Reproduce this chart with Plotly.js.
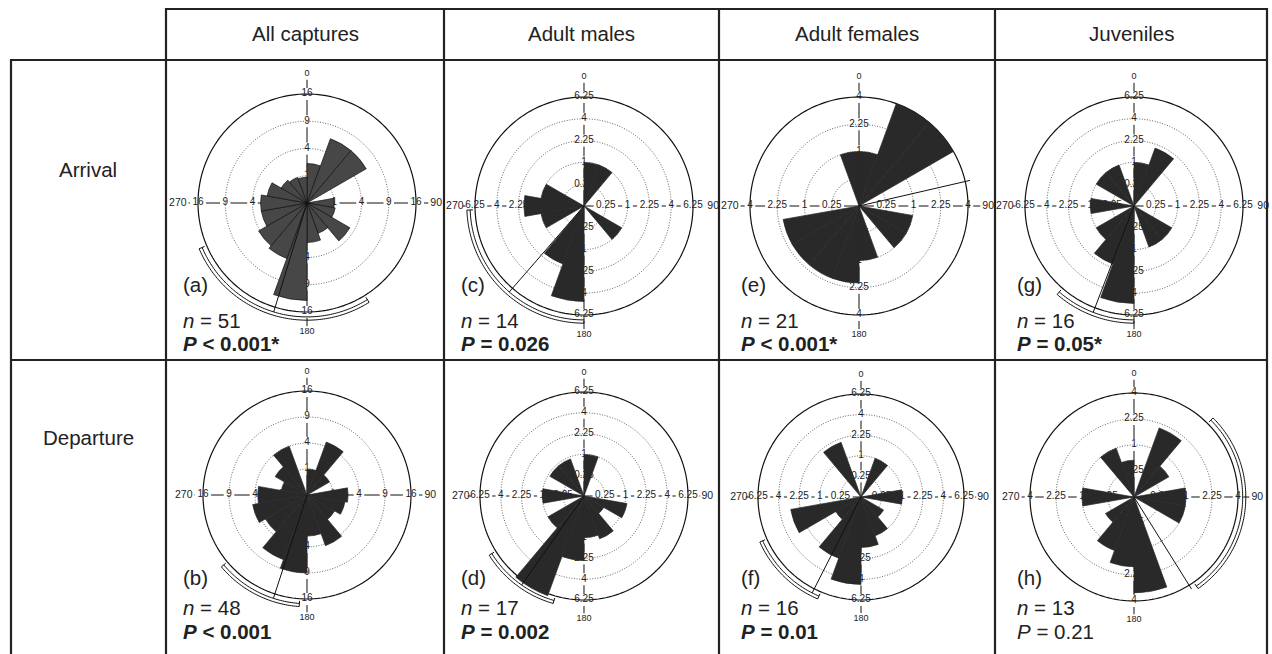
<!DOCTYPE html>
<html><head><meta charset="utf-8">
<script src="https://cdn.plot.ly/plotly-3.0.1.min.js"></script>
<style>html,body{margin:0;padding:0;background:#fff}#chart{width:1272px;height:654px}</style>
</head><body><div id="chart"></div>
<script>
// ---------- DATA ----------
// 20-degree bins (centres, degrees clockwise from north)
const binCenters = [10,30,50,70,90,110,130,150,170,190,210,230,250,270,290,310,330,350];
// bar values (in the units of the radial labels; plotted on a square-root radius)
const arrivalAll       = [2.1,6.3,6.3,0,1.0,1.1,3.3,1.4,2.1,12.8,4.7,4.2,2.9,2.9,2.2,1.2,1.0,0.9];
const arrivalMales     = [1.0,1.0,0,0,0,0,1.0,0,0,4.8,2.0,0,1.0,1.9,1.0,0,0,0];
const arrivalFemales   = [1,4,4,0,0,1,1,0,1,2,2,2,2,0,0,0,0,1];
const arrivalJuveniles = [1,2,0,0,0,0,1,1,0,5,2,1,0,1,0,1,1,0];
const departureAll       = [1.0,4.7,1.0,0,2.5,2.2,1.5,4.3,2.5,9,7,3.4,4.5,3.6,1.0,2.0,4.0,0];
const departureMales     = [1.0,0,0,0,0,1.1,0.3,1.2,1.0,2.4,6.5,1.0,0,1.0,0,0.9,0.9,0];
const departureFemales   = [0,1.0,0,0,1.0,0,0.4,1.0,1.5,4.5,2.5,0.5,3.0,0,0,0,2.0,0];
const departureJuveniles = [0,2.0,0.6,0,1.0,1.0,0,0,3.4,1.8,1.2,0.4,0,1.0,0,0,1.0,0.5];

const colTitles = ['All captures','Adult males','Adult females','Juveniles'];
const rowTitles = ['Arrival','Departure'];
// panel order: a c e g (arrival row), b d f h (departure row)
const panelLetters = ['(a)','(c)','(e)','(g)','(b)','(d)','(f)','(h)'];
const sampleSizes  = [51,14,21,16,48,17,16,13];
const pValues      = ['< 0.001*','= 0.026','< 0.001*','= 0.05*','< 0.001','= 0.002','= 0.01','= 0.21'];
const pSignificant = [true,true,true,true,true,true,true,false];
const meanDirection = [197,221,77,201,198,215,207,148];
const ciLower = [148,180,null,180,184,196,203,45];
const ciUpper = [247,268,null,221,230,238,246,145];
const ticksA = [1,4,9,16];
const ticksB = [0.25,1,2.25,4,6.25];
const ticksC = [0.25,1,2.25,4];
const tickLabelsA = ['1','4','9','16'];
const tickLabelsB = ['0.25','1','2.25','4','6.25'];
const tickLabelsC = ['0.25','1','2.25','4'];
const directionLabels = ['0','90','180','270'];
const directionAngles = [0,90,180,270];

const panelCounts = [arrivalAll,arrivalMales,arrivalFemales,arrivalJuveniles,
                     departureAll,departureMales,departureFemales,departureJuveniles];
const panelTicks  = [ticksA,ticksB,ticksC,ticksB,ticksA,ticksB,ticksB,ticksC];
const panelTickLabels = [tickLabelsA,tickLabelsB,tickLabelsC,tickLabelsB,tickLabelsA,tickLabelsB,tickLabelsB,tickLabelsC];

// ---------- LAYOUT GEOMETRY (pixels) ----------
const W = 1272, H = 654;
const centersX = [307,584,859,1134, 307,584,861,1134];
const centersY = [203,206,206,206, 495,496,497,497];
const ringPx   = [109,109,109,109, 104,104,103,104];
const K = 1.22;   // radial range / outer ring
const barFill = ['#474747','#292929','#292929','#292929','#292929','#292929','#292929','#292929'];
const barLine = ['#111111','#292929','#292929','#292929','#292929','#292929','#292929','#292929'];
const FONT = 'Liberation Sans, Arial, Helvetica, sans-serif';
const TICK_FONT = 10;
const BIG_FONT = 20.5;

const circleTheta = [];
for (let t = 0; t <= 360; t += 2) circleTheta.push(t);

const data = [];
const layout = {
  width: W, height: H, margin: {l:0,r:0,t:0,b:0},
  paper_bgcolor: '#fff', showlegend: false,
  font: {family: FONT, color: '#222'},
  shapes: [], annotations: []
};

function axisOff(extra) {
  return Object.assign({visible:false, showgrid:false, showline:false, showticklabels:false, ticks:''}, extra);
}
function textWidth(s, size) {
  let w = 0;
  for (const ch of s) w += (ch === '.' ? 0.278 : 0.556) * size;
  return w;
}
function clamp01(v) { return Math.max(0, Math.min(1, v)); }

panelCounts.forEach((counts, i) => {
  const ticks = panelTicks[i];
  const labels = panelTickLabels[i];
  const rOut = Math.sqrt(ticks[ticks.length - 1]);
  const rMax = rOut * K;
  const P = ringPx[i] * K;
  const pxPerUnit = ringPx[i] / rOut;
  const dom = {
    x: [clamp01((centersX[i] - P) / W), clamp01((centersX[i] + P) / W)],
    y: [clamp01(1 - (centersY[i] + P) / H), clamp01(1 - (centersY[i] - P) / H)]
  };
  const idB = 'polar' + (2*i + 1 === 1 ? '' : (2*i + 1));
  const idT = 'polar' + (2*i + 2);
  [idB, idT].forEach(id => {
    layout[id] = {
      domain: dom, bgcolor: 'rgba(0,0,0,0)', hole: 0,
      radialaxis: axisOff({range: [0, rMax]}),
      angularaxis: axisOff({rotation: 90, direction: 'clockwise', thetaunit: 'degrees'})
    };
  });

  // --- bottom layer: rings, axis lines (broken around labels), labels ---
  ticks.forEach((v, k) => {
    const outer = k === ticks.length - 1;
    data.push({
      type: 'scatterpolar', subplot: idB, mode: 'lines',
      r: circleTheta.map(() => Math.sqrt(v)), theta: circleTheta,
      line: outer ? {color: '#111', width: 1.2} : {color: '#666', width: 1, dash: '1px,1.6px'},
      hoverinfo: 'skip'
    });
  });
  const dirLabelR = rOut * 1.185;
  directionAngles.forEach((a, d) => {
    const horizontal = (a === 90 || a === 270);
    const halfGap = s => (horizontal ? textWidth(s, TICK_FONT) / 2 + 2.5 : 6) / pxPerUnit;
    const rs = [], th = [];
    let start = 0;
    ticks.forEach((v, k) => {
      const rv = Math.sqrt(v);
      const g = halfGap(labels[k]);
      if (rv - g > start) { rs.push(start, rv - g, null); th.push(a, a, a); }
      start = rv + g;
    });
    const endR = dirLabelR - (horizontal ? textWidth(directionLabels[d], 10.5) / 2 + 2 : 6) / pxPerUnit;
    rs.push(start, endR); th.push(a, a);
    data.push({
      type: 'scatterpolar', subplot: idB, mode: 'lines', r: rs, theta: th,
      connectgaps: false, line: {color: '#111', width: 1}, hoverinfo: 'skip'
    });
    data.push({
      type: 'scatterpolar', subplot: idB, mode: 'text',
      r: ticks.map(v => Math.sqrt(v)), theta: ticks.map(() => a),
      text: labels, textposition: 'middle center',
      textfont: {size: TICK_FONT, color: '#222', family: FONT},
      cliponaxis: false, hoverinfo: 'skip'
    });
  });
  data.push({
    type: 'scatterpolar', subplot: idB, mode: 'text',
    r: directionAngles.map(() => dirLabelR), theta: directionAngles,
    text: directionLabels, textposition: 'middle center',
    textfont: {size: directionAngles.map(a => (a === 90 || a === 270) ? 10.5 : 9), color: '#222', family: FONT},
    cliponaxis: false, hoverinfo: 'skip'
  });

  // --- top layer: bars, mean direction, confidence arc ---
  data.push({
    type: 'barpolar', subplot: idT,
    r: counts.map(c => Math.sqrt(c)), theta: binCenters, width: 20,
    marker: {color: barFill[i], line: {color: barLine[i], width: 0.7}},
    hoverinfo: 'skip'
  });
  data.push({
    type: 'scatterpolar', subplot: idT, mode: 'lines',
    r: [0, rOut * 1.045], theta: [meanDirection[i], meanDirection[i]],
    line: {color: '#111', width: 1}, hoverinfo: 'skip'
  });
  if (ciLower[i] !== null) {
    const arcTheta = [];
    for (let t = ciLower[i]; t <= ciUpper[i]; t += 1) arcTheta.push(t);
    [1.045, 1.075].forEach(f => {
      data.push({
        type: 'scatterpolar', subplot: idT, mode: 'lines',
        r: arcTheta.map(() => rOut * f), theta: arcTheta,
        line: {color: '#111', width: 1}, hoverinfo: 'skip'
      });
    });
    [ciLower[i], ciUpper[i]].forEach(t => {
      data.push({
        type: 'scatterpolar', subplot: idT, mode: 'lines',
        r: [rOut * 1.02, rOut * 1.075], theta: [t, t],
        line: {color: '#111', width: 1}, hoverinfo: 'skip'
      });
    });
  }

  // --- panel texts ---
  const col = i % 4, row = Math.floor(i / 4);
  const textX = [181, 459, 739, 1015][col];
  const yLetter = row === 0 ? 284 : 577;
  const yN = row === 0 ? 320 : 607;
  const yP = row === 0 ? 343 : 631;
  layout.annotations.push({xref:'paper', yref:'paper', x: textX / W, y: 1 - yLetter / H,
    xanchor:'left', yanchor:'middle', showarrow:false, text: panelLetters[i],
    font:{size:BIG_FONT, family:FONT, color:'#222'}});
  layout.annotations.push({xref:'paper', yref:'paper', x: textX / W, y: 1 - yN / H,
    xanchor:'left', yanchor:'middle', showarrow:false, text: '<i>n</i> = ' + sampleSizes[i],
    font:{size:BIG_FONT, family:FONT, color:'#222'}});
  const pTxt = '<i>P</i> ' + pValues[i];
  layout.annotations.push({xref:'paper', yref:'paper', x: textX / W, y: 1 - yP / H,
    xanchor:'left', yanchor:'middle', showarrow:false,
    text: pSignificant[i] ? '<b>' + pTxt + '</b>' : pTxt,
    font:{size:BIG_FONT, family:FONT, color:'#222'}});
});

// ---------- table ----------
const colCentersX = [305, 581, 857, 1131];
colTitles.forEach((t, k) => layout.annotations.push({xref:'paper', yref:'paper',
  x: colCentersX[k] / W, y: 1 - 34 / H, xanchor:'center', yanchor:'middle', showarrow:false,
  text: t, font:{size:BIG_FONT, family:FONT, color:'#222'}}));
const rowCentersY = [170, 437];
rowTitles.forEach((t, k) => layout.annotations.push({xref:'paper', yref:'paper',
  x: 88 / W, y: 1 - rowCentersY[k] / H, xanchor:'center', yanchor:'middle', showarrow:false,
  text: t, font:{size:BIG_FONT, family:FONT, color:'#222'}}));

function hline(y, x0, x1) {
  layout.shapes.push({type:'line', xref:'paper', yref:'paper', x0: x0/W, x1: x1/W, y0: 1-y/H, y1: 1-y/H,
    line:{color:'#222', width:2.2}});
}
function vline(x, y0, y1) {
  layout.shapes.push({type:'line', xref:'paper', yref:'paper', x0: x/W, x1: x/W, y0: 1-y0/H, y1: 1-y1/H,
    line:{color:'#222', width:2.2}});
}
hline(9, 165, 1268);
hline(60, 10, 1268);
hline(360, 10, 1268);
vline(11, 59, 654);
[166, 444, 719, 995, 1267].forEach(x => vline(x, 8, 654));

Plotly.newPlot('chart', data, layout, {staticPlot: true});
</script>
</body></html>
